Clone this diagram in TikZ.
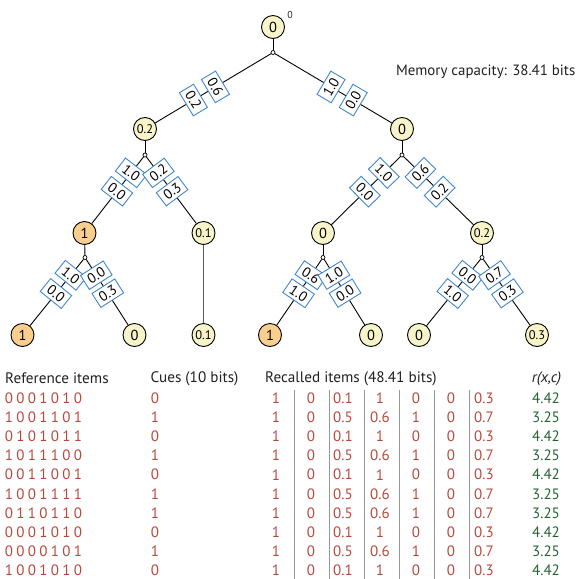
\documentclass[tikz,border=0pt]{standalone}
\usepackage{fontspec}
\setmainfont{PT Sans}
\definecolor{ylw}{RGB}{247,244,201}
\definecolor{org}{RGB}{250,207,141}
\definecolor{bluec}{RGB}{66,135,205}
\definecolor{redc}{RGB}{185,72,60}
\definecolor{grn}{RGB}{36,100,52}
\definecolor{txt}{RGB}{35,31,32}
\definecolor{sepc}{RGB}{150,150,150}
\newcommand\bitbx[1]{\makebox[11.5pt]{#1}}
\newcommand\refbits[7]{\bitbx{#1}\bitbx{#2}\bitbx{#3}\bitbx{#4}\bitbx{#5}\bitbx{#6}\bitbx{#7}}
\begin{document}
\begin{tikzpicture}[x=1pt,y=-1pt,
  nd/.style={circle, draw=black, line width=0.9pt, minimum size=23pt, inner sep=0pt, fill=ylw, font=\fontsize{14.5}{14.5}\selectfont},
  ndo/.style={nd, fill=org},
  sm/.style={font=\fontsize{12.5}{12.5}\selectfont},
  br/.style={circle, draw=black, fill=white, inner sep=0pt, minimum size=4pt, line width=0.7pt},
  edge/.style={draw=black, line width=0.9pt},
  lbl/.style={draw=bluec, fill=white, line width=0.9pt, sloped, allow upside down, rotate=90, inner sep=0pt, minimum width=27pt, minimum height=16.5pt, font=\fontsize{14}{14}\selectfont},
  hdr/.style={text=txt, inner sep=0pt, font=\fontsize{15.2}{15.2}\selectfont},
  cell/.style={text=redc, inner sep=0pt, font=\fontsize{15}{15}\selectfont},
  gcell/.style={text=grn, inner sep=0pt, font=\fontsize{15}{15}\selectfont},
  sepl/.style={draw=sepc, line width=0.8pt}
]
\useasboundingbox (0,0) rectangle (576,579);

% tree nodes
\node[nd] (n0) at (273,27) {0};
\node[text=txt, inner sep=0pt, font=\fontsize{10}{10}\selectfont] (sup0) at (290,14.5) {0};
\node[br] (b0) at (273,52.5) {};
\node[nd, sm] (nL) at (145,129) {0.2};
\node[nd] (nR) at (402,129) {0};
\node[br] (bL) at (145,155) {};
\node[br] (bR) at (402,155) {};
\node[ndo] (nLL) at (84.5,233) {1};
\node[nd, sm] (nLR) at (203.5,233) {0.1};
\node[nd] (nRL) at (323,233) {0};
\node[nd, sm] (nRR) at (482,233) {0.2};
\node[br] (bLL) at (85,257.5) {};
\node[br] (bRL) at (323,257.5) {};
\node[br] (bRR) at (482,257.5) {};
\node[ndo] (f1) at (22.5,335) {1};
\node[nd] (f2) at (134.5,335) {0};
\node[nd, sm] (f3) at (203.5,335) {0.1};
\node[ndo] (f4) at (270,335) {1};
\node[nd] (f5) at (371,335) {0};
\node[nd] (f6) at (419,335) {0};
\node[nd, sm] (f7) at (537,335) {0.3};

\node[text=txt, inner sep=0pt, anchor=east, font=\fontsize{14.9}{14.9}\selectfont] (mem) at (575.5,72) {Memory capacity: 38.41 bits};

% stems
\draw[edge] (n0) -- (b0);
\draw[edge] (nL) -- (bL);
\draw[edge] (nR) -- (bR);
\draw[edge] (nLL) -- (bLL);
\draw[edge] (nRL) -- (bRL);
\draw[edge] (nRR) -- (bRR);
\draw[line width=1.8pt, draw=black!65] (nLR) -- (f3);

% level 1 edges
\draw[edge] (b0) -- node[lbl, pos=.48] (e1a) {0.6} node[lbl, pos=.67] (e1b) {0.2} (nL);
\draw[edge] (b0) -- node[lbl, pos=.48] (e2a) {1.0} node[lbl, pos=.67] (e2b) {0.0} (nR);
% level 2 edges
\draw[edge] (bL) -- node[lbl, pos=.24] (e3a) {1.0} node[lbl, pos=.515] (e3b) {0.0} (nLL);
\draw[edge] (bL) -- node[lbl, pos=.24] (e4a) {0.2} node[lbl, pos=.515] (e4b) {0.3} (nLR);
\draw[edge] (bR) -- node[lbl, pos=.24] (e5a) {1.0} node[lbl, pos=.515] (e5b) {0.0} (nRL);
\draw[edge] (bR) -- node[lbl, pos=.24] (e6a) {0.6} node[lbl, pos=.515] (e6b) {0.2} (nRR);
% level 3 edges
\draw[edge] (bLL) -- node[lbl, pos=.24] (e7a) {1.0} node[lbl, pos=.515] (e7b) {0.0} (f1);
\draw[edge] (bLL) -- node[lbl, pos=.24] (e8a) {0.0} node[lbl, pos=.515] (e8b) {0.3} (f2);
\draw[edge] (bRL) -- node[lbl, pos=.24] (e9a) {0.6} node[lbl, pos=.515] (e9b) {1.0} (f4);
\draw[edge] (bRL) -- node[lbl, pos=.24] (e10a) {1.0} node[lbl, pos=.515] (e10b) {0.0} (f5);
\draw[edge] (bRR) -- node[lbl, pos=.24] (e11a) {0.0} node[lbl, pos=.515] (e11b) {1.0} (f6);
\draw[edge] (bRR) -- node[lbl, pos=.24] (e12a) {0.7} node[lbl, pos=.515] (e12b) {0.3} (f7);

% table headers
\node[hdr, anchor=west] (h1) at (5,378.5) {Reference items};
\node[hdr, anchor=west] (h2) at (150.5,378.5) {Cues (10 bits)};
\node[hdr, anchor=west] (h3) at (265,378.5) {Recalled items (48.41 bits)};
\node[hdr] (h4) at (546.5,378.5) {\itshape r(x,c)};

% separators
\foreach \sx in {294.3,329,364,399.3,434,469}
  \draw[sepl] (\sx,390) -- (\sx,579);

% rows
\foreach \k/\bits/\cue/\ca/\cb/\cc/\cd/\rr in {
  1/0001010/0/0.1/1/0/0.3/4.42,
  2/1001101/1/0.5/0.6/1/0.7/3.25,
  3/0101011/0/0.1/1/0/0.3/4.42,
  4/1011100/1/0.5/0.6/1/0.7/3.25,
  5/0011001/0/0.1/1/0/0.3/4.42,
  6/1001111/1/0.5/0.6/1/0.7/3.25,
  7/0110110/1/0.5/0.6/1/0.7/3.25,
  8/0001010/0/0.1/1/0/0.3/4.42,
  9/0000101/1/0.5/0.6/1/0.7/3.25,
  10/1001010/0/0.1/1/0/0.3/4.42}{
  \pgfmathsetmacro\yy{398.3+19.1*(\k-1)}
  \node[cell, anchor=west] (ref\k) at (3,\yy) {\expandafter\refbits\bits};
  \node[cell] (cue\k) at (155,\yy) {\cue};
  \node[cell] (rc\k-1) at (276,\yy) {1};
  \node[cell] (rc\k-2) at (311,\yy) {0};
  \node[cell] (rc\k-3) at (343,\yy) {\ca};
  \node[cell] (rc\k-4) at (380,\yy) {\cb};
  \node[cell] (rc\k-5) at (416,\yy) {\cc};
  \node[cell] (rc\k-6) at (451,\yy) {0};
  \node[cell] (rc\k-7) at (484,\yy) {\cd};
  \node[gcell] (rr\k) at (546,\yy) {\rr};
}
\end{tikzpicture}
\end{document}
